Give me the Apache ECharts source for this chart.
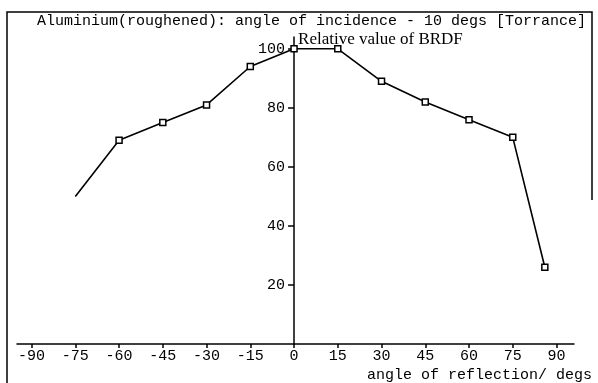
<!DOCTYPE html>
<html>
<head>
<meta charset="utf-8">
<script src="https://cdn.jsdelivr.net/npm/echarts@6/dist/echarts.min.js"></script>
<style>
  html, body {margin: 0; padding: 0; background: #fff;}
  #chart {width: 598px; height: 383px;}
</style>
</head>
<body>
<div id="chart"></div>
<script>
// angle of reflection (degs) and relative BRDF value
const angles = [-75, -60, -45, -30, -15, 0, 15, 30, 45, 60, 75, 86];
const brdf = [50, 69, 75, 81, 94, 100, 100, 89, 82, 76, 70, 26];
const xTicks = [-90, -75, -60, -45, -30, -15, 0, 15, 30, 45, 60, 75, 90];
const yTicks = [20, 40, 60, 80, 100];

const mono = 'Liberation Mono';
const xMin = -95, xMax = 96;
const gridLeft = 17, gridRight = 24, W = 598;
// y axis sits at x = 0, so push it into the grid
const yOffset = -(0 - xMin) / (xMax - xMin) * (W - gridLeft - gridRight);

const chart = echarts.init(document.getElementById('chart'));

const points = angles.map((a, i) => {
  const p = {value: [a, brdf[i]]};
  if (i === 0) p.symbol = 'none';
  return p;
});

chart.setOption({
  animation: false,
  backgroundColor: '#fff',
  title: {
    text: 'Aluminium(roughened): angle of incidence - 10 degs [Torrance]',
    right: 7,
    top: 9,
    textStyle: {fontFamily: mono, fontSize: 15, fontWeight: 'normal', color: '#000'}
  },
  grid: {left: gridLeft, right: gridRight, top: 37, bottom: 39, outerBoundsMode: 'none'},
  xAxis: {
    type: 'value',
    min: xMin,
    max: xMax,
    name: 'angle of reflection/ degs',
    nameLocation: 'end',
    nameGap: 0,
    nameTextStyle: {
      fontFamily: mono, fontSize: 15, color: '#000',
      align: 'right', verticalAlign: 'top', padding: [24, -18, 0, 0]
    },
    axisLine: {lineStyle: {color: '#000', width: 1.5}},
    axisTick: {show: true, length: 4, customValues: xTicks, lineStyle: {color: '#000', width: 1.5}},
    axisLabel: {customValues: xTicks, fontFamily: mono, fontSize: 15, color: '#000', margin: 5},
    splitLine: {show: false}
  },
  yAxis: {
    type: 'value',
    min: 0,
    max: 104,
    offset: yOffset,
    name: 'Relative value of BRDF',
    nameLocation: 'end',
    nameGap: 0,
    nameTextStyle: {
      fontFamily: 'Liberation Serif', fontSize: 17, color: '#000',
      align: 'left', verticalAlign: 'bottom', padding: [0, 0, -11, 4]
    },
    axisLine: {onZero: false, lineStyle: {color: '#000', width: 1.5}},
    axisTick: {show: true, length: 6, customValues: yTicks, lineStyle: {color: '#000', width: 1.5}},
    axisLabel: {customValues: yTicks, fontFamily: mono, fontSize: 15, color: '#000', margin: 9},
    splitLine: {show: false}
  },
  graphic: [{
    type: 'polyline',
    shape: {points: [[7, 383], [7, 12], [592, 12], [592, 200]]},
    style: {fill: null, stroke: '#000', lineWidth: 1.5},
    silent: true
  }],
  series: [{
    type: 'line',
    data: points,
    symbol: 'rect',
    symbolSize: 6,
    showAllSymbol: true,
    lineStyle: {color: '#000', width: 1.6},
    itemStyle: {color: '#fff', borderColor: '#000', borderWidth: 1.5}
  }]
});
</script>
</body>
</html>
